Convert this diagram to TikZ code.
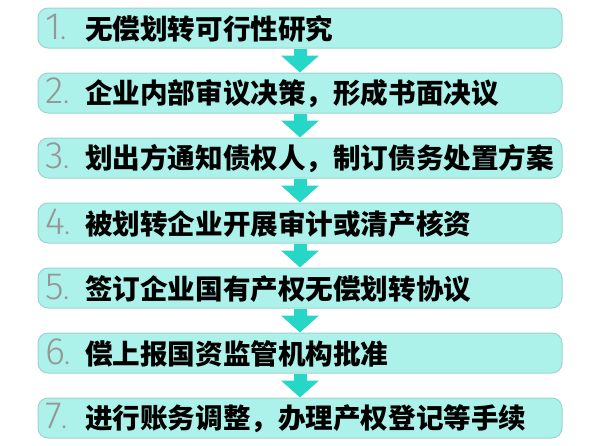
\documentclass[tikz,border=0pt]{standalone}
\usepackage{fontspec}
\usepackage{tikz}
\usetikzlibrary{arrows.meta}
\newfontfamily\cjk{Noto Sans CJK SC}
\newfontfamily\numfont{Fira Sans Light}

\definecolor{boxfill}{RGB}{172,242,234}
\definecolor{boxline}{RGB}{158,212,206}
\definecolor{numgrey}{RGB}{150,150,150}
\definecolor{arrowteal}{RGB}{38,214,198}

\newcommand{\stepnum}[1]{\makebox[40pt][l]{{\mdseries\numfont\fontsize{38}{38}\selectfont\color{numgrey}#1}{\mdseries\color{numgrey}\fontsize{22}{22}\selectfont.}}}

\tikzset{
  stepbox/.style={draw=boxline, line width=1pt, fill=boxfill, rounded corners=10pt,
    minimum width=524pt, minimum height=40pt, text width=510pt, inner xsep=7pt, inner ysep=0pt,
    align=left, font=\cjk\bfseries\fontsize{27.6}{27.6}\selectfont},
  flow/.style={arrowteal, line width=13pt, -{Triangle[width=37pt,length=17pt]}}
}

\begin{document}
\begin{tikzpicture}[x=1pt,y=1pt]
\useasboundingbox (0,0) rectangle (600,-445);

% Define the steps in a loop
\foreach \n/\txt in {1/无偿划转可行性研究, 2/企业内部审议决策，形成书面决议, 3/划出方通知债权人，制订债务处置方案,
    4/被划转企业开展审计或清产核资, 5/签订企业国有产权无偿划转协议, 6/偿上报国资监管机构批准,
    7/进行账务调整，办理产权登记等手续} {
    \node[stepbox] (s\n) at (300,{-28-65*(\n-1)}) {\stepnum{\n}\txt};
}

% Define arrows in a loop
\foreach \source/\dest in {1/2, 2/3, 3/4, 4/5, 5/6, 6/7} {
    \draw[flow] (s\source.south) -- (s\dest.north);
}

\end{tikzpicture}
\end{document}
